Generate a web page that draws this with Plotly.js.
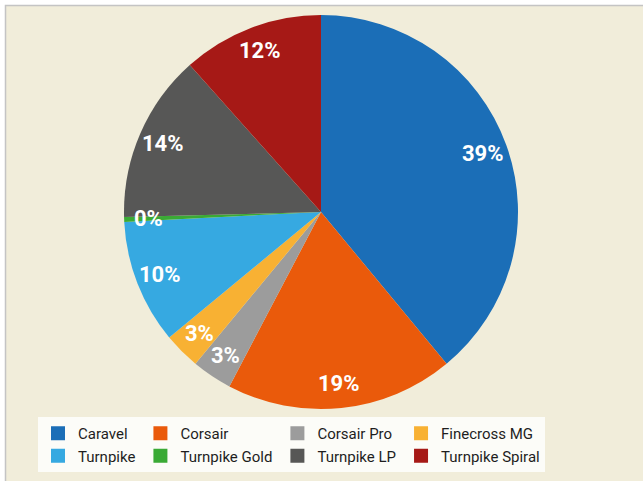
<!DOCTYPE html>
<html>
<head>
<meta charset="utf-8">
<script src="https://cdn.plot.ly/plotly-3.0.1.min.js"></script>
<style>
html,body{margin:0;padding:0;background:#ffffff;}
#chart{width:643px;height:481px;}
</style>
</head>
<body>
<div id="chart"></div>
<script>
var labels = ['Caravel','Corsair','Corsair Pro','Finecross MG','Turnpike','Turnpike Gold','Turnpike LP','Turnpike Spiral'];
var values = [39.0, 18.7, 3.3, 3.0, 10.2, 0.4, 13.8, 11.6];
var colors = ['#1b6eb7','#ea5a0b','#9c9c9c','#f8b133','#36a9e1','#3aaa35','#575756','#a61916'];
var legendColumns = 4;

var W = 643, H = 481;
var M = {l: 0, r: 0, t: 0, b: 0};
var gw = W - M.l - M.r, gh = H - M.t - M.b;
function px(x) { return (x - M.l) / gw; }
function py(y) { return 1 - (y - M.t) / gh; }

var cx = 321, cy = 212, R = 197, labelR = 0.875;

var pie = {
  type: 'pie',
  labels: labels,
  values: values,
  sort: false,
  direction: 'clockwise',
  rotation: 0,
  domain: {x: [px(cx - R), px(cx + R)], y: [py(cy + R), py(cy - R)]},
  marker: {colors: colors, line: {width: 0}},
  textinfo: 'none',
  hoverinfo: 'label+percent',
  showlegend: false
};

// legend key entries (they draw no marks), grouped into columns like the original key
var legendEntries = labels.map(function(name, i) {
  return {
    type: 'scatter', mode: 'markers', x: [null], y: [null],
    name: name,
    marker: {color: colors[i], symbol: 'square', size: 14, line: {width: 0}},
    legendgroup: 'col' + (i % legendColumns),
    showlegend: true,
    hoverinfo: 'skip'
  };
});

// percentage labels placed at each slice's mid-angle, computed from the values
var total = values.reduce(function(a, b) { return a + b; }, 0);
var annotations = [];
var cum = 0;
values.forEach(function(v) {
  var mid = (cum + v / 2) / total * 2 * Math.PI;
  cum += v;
  annotations.push({
    xref: 'paper', yref: 'paper',
    x: px(cx + labelR * R * Math.sin(mid)),
    y: py(cy - labelR * R * Math.cos(mid)),
    xanchor: 'center', yanchor: 'middle',
    text: Math.round(v / total * 100) + '%',
    showarrow: false,
    font: {family: 'Roboto, sans-serif', size: 22, color: '#ffffff', weight: 'bold'}
  });
});

var layout = {
  width: W, height: H,
  margin: M,
  paper_bgcolor: '#ffffff',
  plot_bgcolor: 'rgba(0,0,0,0)',
  xaxis: {visible: false, fixedrange: true},
  yaxis: {visible: false, fixedrange: true},
  shapes: [{
    type: 'rect', xref: 'paper', yref: 'paper', layer: 'below',
    x0: px(5.5), x1: px(W + 20), y0: py(H + 20), y1: py(5.5),
    fillcolor: '#f1edda', line: {color: '#c4c4c4', width: 1.5}
  }],
  annotations: annotations,
  showlegend: true,
  legend: {
    orientation: 'h',
    x: px(38), xanchor: 'left',
    y: py(417), yanchor: 'top',
    bgcolor: '#fcfcf8',
    borderwidth: 0,
    traceorder: 'grouped',
    tracegroupgap: 0,
    font: {family: 'Roboto, sans-serif', size: 15, color: '#1e1e1e'}
  }
};

Plotly.newPlot('chart', [pie].concat(legendEntries), layout, {displayModeBar: false, staticPlot: true});
</script>
</body>
</html>
